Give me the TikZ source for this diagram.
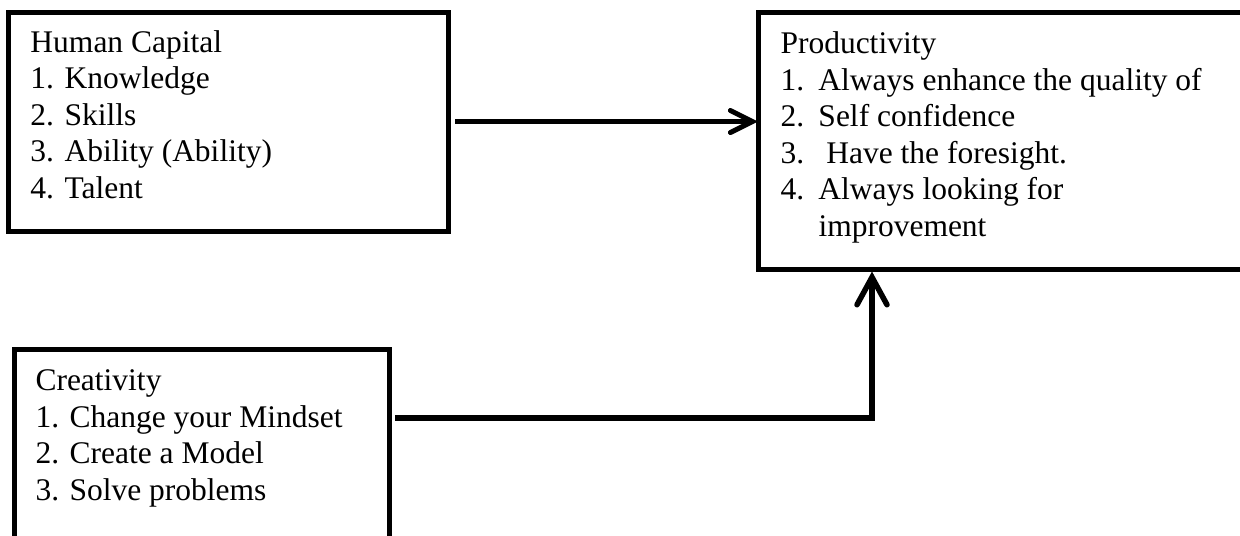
\documentclass[tikz,border=0pt]{standalone}
\usepackage{fontspec}
\setmainfont{Liberation Serif}
\usetikzlibrary{arrows.meta}
\begin{document}
\begin{tikzpicture}[x=0.4pt,y=-0.4pt,
  box/.style={draw,line width=2pt,inner sep=0pt,outer sep=0pt,anchor=north west},
  txt/.style={anchor=base west,inner sep=0pt,align=left,font=\fontsize{12.6}{14.6}\selectfont},
  conn/.style={line width=2pt,-{Straight Barb[length=8.8pt,width=8.8pt,line cap=round]}},
  connb/.style={line width=2.2pt,-{Straight Barb[length=11pt,width=12pt,line cap=round]}}]
\useasboundingbox (0,0) rectangle (1240,535);
% boxes
\node[box,minimum width=176pt,minimum height=87.6pt] (hc) at (8,12) {};
\node[box,minimum width=196.8pt,minimum height=102.8pt] (prod) at (758,12) {};
\node[box,minimum width=150pt,minimum height=78.4pt] (cre) at (14,349) {};
% texts (anchored at the baseline of their last line)
\node[txt] (hct) at (30,198) {Human Capital\\1. Knowledge\\2. Skills\\3. Ability (Ability)\\4. Talent};
\node[txt] (prodt) at (780,236) {Productivity\\
\makebox[15.2pt][l]{1.}Always enhance the quality of\\
\makebox[15.2pt][l]{2.}Self confidence\\
\makebox[15.2pt][l]{3.}\ Have the foresight.\\
\makebox[15.2pt][l]{4.}Always looking for\\
\hspace*{15.2pt}improvement};
\node[txt] (cret) at (35,500) {Creativity\\1. Change your Mindset\\2. Create a Model\\3. Solve problems};
% connectors
\coordinate (a1) at ([xshift=2.8pt]hc.east);
\draw[conn] (a1) -- (a1 -| prod.west);
\coordinate (c1) at (395,418);
\coordinate (c2) at ([xshift=45.6pt,yshift=-1pt]prod.south west);
\draw[connb] (c1) -| (c2);
\end{tikzpicture}
\end{document}
